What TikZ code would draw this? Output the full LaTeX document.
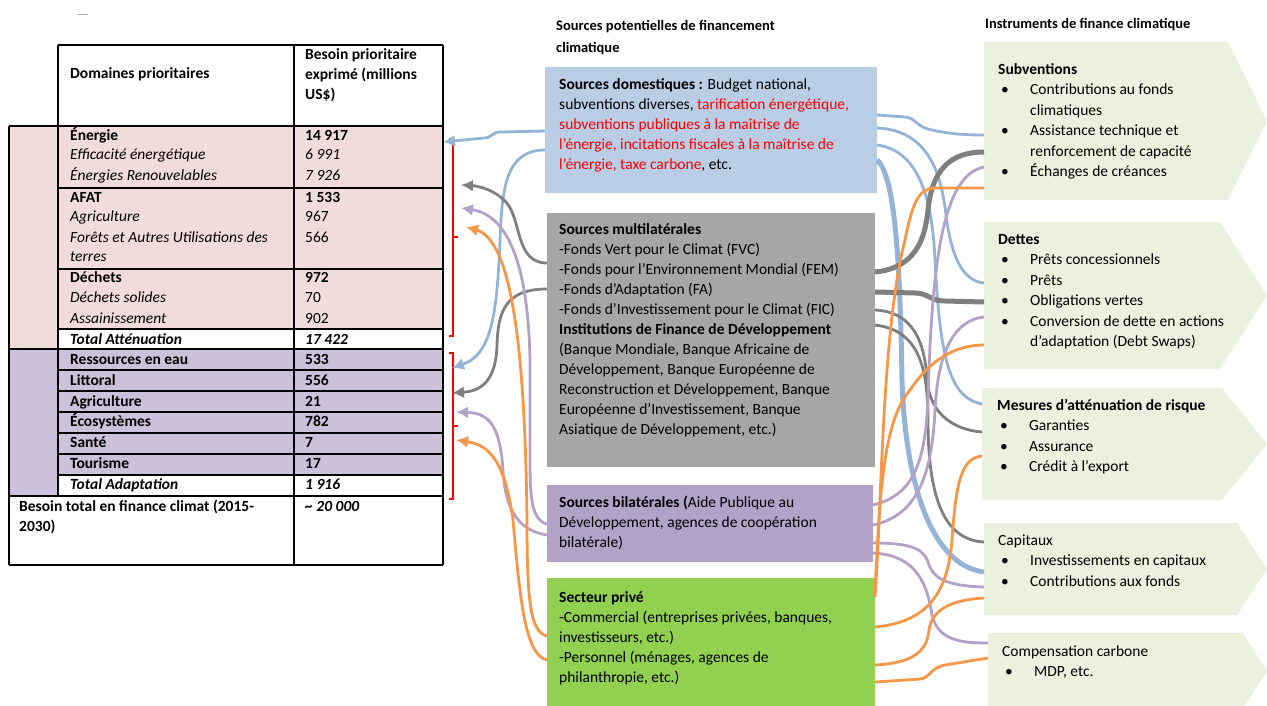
\documentclass[tikz,border=0pt]{standalone}
\usepackage{fontspec}
\setmainfont{Carlito}
\usetikzlibrary{arrows.meta,calc}
\definecolor{PinkClr}{HTML}{F2DCDB}
\definecolor{LilacClr}{HTML}{CCC0DA}
\definecolor{DomClr}{HTML}{B9CDE5}
\definecolor{MultiClr}{HTML}{A6A6A6}
\definecolor{BilatClr}{HTML}{B3A2C7}
\definecolor{PrivClr}{HTML}{92D050}
\definecolor{ChevClr}{HTML}{EBF1DE}
\definecolor{BlueLn}{HTML}{95B3D7}
\definecolor{GrayLn}{HTML}{7F7F7F}
\definecolor{LilacLn}{HTML}{B3A2C7}
\definecolor{OrangeLn}{HTML}{F79646}
\definecolor{BrackClr}{HTML}{FF0000}
\newcommand{\srcfont}{\fontsize{15.5}{20}\selectfont}
\newcommand{\insfont}{\fontsize{15.5}{20.5}\selectfont}
\newcommand{\boxlines}[1]{\parbox[t]{330pt}{\raggedright #1}}
\newcommand{\bitem}[1]{\hspace*{3pt}\makebox[29pt][l]{\textbullet}#1}
\newcommand{\bcont}[1]{\hspace*{32pt}#1}

\begin{document}
\begin{tikzpicture}[x=1pt,y=-1pt,
  txt/.style={anchor=base west,inner sep=0pt,font=\srcfont},
  instxt/.style={anchor=base west,inner sep=0pt,font=\insfont},
  boxnode/.style={anchor=north west,inner sep=0pt,outer sep=0pt},
  tline/.style={line width=1.2pt},
  bracket/.style={draw=BrackClr,line width=1.3pt},
  link/.style={line width=2.8pt},
  biglink/.style={line width=5pt},
  toleft/.style={-{Latex[length=12pt,width=12pt]}}]
\useasboundingbox (0,0) rectangle (1267,705);

\fill[PinkClr] (9,126) rectangle (443,329);
\fill[PinkClr] (9,329) rectangle (58,349);
\fill[LilacClr] (9,349) rectangle (443,475);
\fill[LilacClr] (9,475) rectangle (58,496);

\draw[tline] (58,45) -- (443,45);
\draw[tline] (9,126) -- (443,126);
\draw[tline] (58,188) -- (443,188);
\draw[tline] (58,269) -- (443,269);
\draw[tline] (58,329) -- (443,329);
\draw[tline] (9,349) -- (443,349);
\foreach \yy in {370,391,412,433,454,475}
  \draw[tline] (58,\yy) -- (443,\yy);
\draw[tline] (9,496) -- (443,496);
\draw[tline] (9,565) -- (443,565);
\draw[tline] (9,126) -- (9,565);
\draw[tline] (58,45) -- (58,496);
\draw[tline] (294,45) -- (294,565);
\draw[tline] (443,45) -- (443,565);
\draw[GrayLn!60,line width=1pt] (77,14) -- (88,14);

\node[txt] (hd1) at (70,78) {\textbf{Domaines prioritaires}};
\node[txt] (hd2) at (305,59) {\parbox[t]{140pt}{\bfseries Besoin prioritaire\\ exprimé (millions\\ US\$)}};

\node[txt] (n1) at (70,140) {\textbf{Énergie}};
\node[txt] (v1) at (305,140) {\textbf{14 917}};
\node[txt] (n2) at (70,159) {\textit{Efficacité énergétique}};
\node[txt] (v2) at (305,159) {\textit{6 991}};
\node[txt] (n3) at (70,180) {\textit{Énergies Renouvelables}};
\node[txt] (v3) at (305,180) {\textit{7 926}};
\node[txt] (n4) at (70,202) {\textbf{AFAT}};
\node[txt] (v4) at (305,202) {\textbf{1 533}};
\node[txt] (n5) at (70,221) {\textit{Agriculture}};
\node[txt] (v5) at (305,221) {967};
\node[txt] (n6) at (70,242) {\textit{Forêts et Autres Utilisations des}};
\node[txt] (v6) at (305,242) {566};
\node[txt] (n6b) at (70,261) {\textit{terres}};
\node[txt] (n7) at (70,282) {\textbf{Déchets}};
\node[txt] (v7) at (305,282) {\textbf{972}};
\node[txt] (n8) at (70,302) {\textit{Déchets solides}};
\node[txt] (v8) at (305,302) {70};
\node[txt] (n9) at (70,323) {\textit{Assainissement}};
\node[txt] (v9) at (305,323) {902};
\node[txt] (n10) at (70,344) {\textbf{\textit{Total Atténuation}}};
\node[txt] (v10) at (305,344) {\textbf{\textit{17 422}}};
\node[txt] (n11) at (70,364) {\textbf{Ressources en eau}};
\node[txt] (v11) at (305,364) {\textbf{533}};
\node[txt] (n12) at (70,385) {\textbf{Littoral}};
\node[txt] (v12) at (305,385) {\textbf{556}};
\node[txt] (n13) at (70,406) {\textbf{Agriculture}};
\node[txt] (v13) at (305,406) {\textbf{21}};
\node[txt] (n14) at (70,426) {\textbf{Écosystèmes}};
\node[txt] (v14) at (305,426) {\textbf{782}};
\node[txt] (n15) at (70,447) {\textbf{Santé}};
\node[txt] (v15) at (305,447) {\textbf{7}};
\node[txt] (n16) at (70,468) {\textbf{Tourisme}};
\node[txt] (v16) at (305,468) {\textbf{17}};
\node[txt] (n17) at (70,489) {\textbf{\textit{Total Adaptation}}};
\node[txt] (v17) at (305,489) {\textbf{\textit{1 916}}};
\node[txt] (n18) at (19,511) {\parbox[t]{270pt}{\bfseries Besoin total en finance climat (2015-\\ 2030)}};
\node[txt] (v18) at (305,511) {\textbf{\textit{\textasciitilde\ 20 000}}};

\draw[bracket] (449,139) -- (453,139) -- (453,336) -- (449,336);
\draw[bracket] (453,237) -- (458,237);
\draw[bracket] (449,353) -- (453,353) -- (453,499) -- (449,499);
\draw[bracket] (453,426) -- (458,426);

\coordinate (tgtEn) at (443,142);
\coordinate (tgtEau) at (452,368);
\coordinate (tgtAfat) at (461,185);
\coordinate (tgtLit) at (452,393);
\coordinate (tgtAfatb) at (461,208);
\coordinate (tgtAgr) at (456,412);
\coordinate (tgtDech) at (466,227);
\coordinate (tgtEco) at (456,440);

\node[boxnode,fill=DomClr,minimum width=332pt,minimum height=126pt] (dom) at (545,67) {};
\node[boxnode,fill=MultiClr,minimum width=328pt,minimum height=254pt] (multi) at (547,213) {};
\node[boxnode,fill=BilatClr,minimum width=326pt,minimum height=77pt] (bilat) at (547,485) {};
\node[boxnode,fill=PrivClr,minimum width=328pt,minimum height=130pt] (priv) at (547,578) {};

\node[boxnode,minimum width=244pt,minimum height=158pt] (subv) at (984,42) {};
\node[boxnode,minimum width=236pt,minimum height=147pt] (dettes) at (984,222) {};
\node[boxnode,minimum width=240pt,minimum height=112pt] (risque) at (982,388) {};
\node[boxnode,minimum width=253pt,minimum height=92pt] (capit) at (984,523) {};
\node[boxnode,minimum width=255pt,minimum height=76pt] (compens) at (988,633) {};
\fill[ChevClr] (subv.north west) -- (subv.north east) -- ($(subv.east)+(39,0)$) -- (subv.south east) -- (subv.south west) -- cycle;
\fill[ChevClr] (dettes.north west) -- (dettes.north east) -- ($(dettes.east)+(47,0)$) -- (dettes.south east) -- (dettes.south west) -- cycle;
\fill[ChevClr] (risque.north west) -- (risque.north east) -- ($(risque.east)+(45,0)$) -- (risque.south east) -- (risque.south west) -- cycle;
\fill[ChevClr] (capit.north west) -- (capit.north east) -- ($(capit.east)+(30,0)$) -- (capit.south east) -- (capit.south west) -- cycle;
\fill[ChevClr] (compens.north west) -- (compens.north east) -- ($(compens.east)+(24,0)$) -- (compens.south east) -- (compens.south west) -- cycle;

\draw[link,BlueLn,toleft] (dom.west |- 0,131) -- (500,132) .. controls (492,132) and (492,138) .. (484,138) -- (tgtEn);
\draw[link,BlueLn,toleft] (dom.west |- 0,150) .. controls (505,150) and (502,190) .. (500,240) .. controls (497,320) and (490,355) .. (tgtEau);
\draw[link,GrayLn,toleft] (multi.west |- 0,263) .. controls (515,263) and (522,220) .. (506,202) .. controls (496,191) and (480,186) .. (tgtAfat);
\draw[link,GrayLn,toleft] (multi.west |- 0,289) .. controls (505,289) and (498,312) .. (497,345) .. controls (496,380) and (482,391) .. (tgtLit);
\draw[link,LilacLn,toleft] (bilat.west |- 0,524) .. controls (532,520) and (530,500) .. (530,460) -- (530,360) .. controls (528,262) and (507,215) .. (tgtAfatb);
\draw[link,LilacLn,toleft] (bilat.west |- 0,535) .. controls (515,530) and (505,505) .. (503,470) .. controls (500,427) and (490,413) .. (tgtAgr);
\draw[link,OrangeLn,toleft] (priv.west |- 0,636) .. controls (530,632) and (527,600) .. (527,520) .. controls (525,350) and (512,240) .. (tgtDech);
\draw[link,OrangeLn,toleft] (priv.west |- 0,660) .. controls (525,655) and (520,600) .. (513,520) .. controls (505,462) and (490,445) .. (tgtEco);

\draw[link,BlueLn] (dom.east |- 0,115) -- (905,117) .. controls (916,118) and (916,127) .. (932,130) .. controls (950,134) and (965,135) .. (subv.west |- 0,135);
\draw[link,BlueLn] (dom.east |- 0,128) .. controls (920,130) and (940,160) .. (946,215) .. controls (951,255) and (962,281) .. (dettes.west |- 0,283);
\draw[link,BlueLn] (dom.east |- 0,145) .. controls (915,150) and (932,190) .. (935,260) .. controls (940,360) and (950,398) .. (risque.west |- 0,404);
\draw[biglink,BlueLn] (dom.east |- 0,160) .. controls (895,175) and (900,260) .. (902,380) .. controls (905,480) and (930,565) .. (capit.west |- 0,572);
\draw[biglink,GrayLn] (multi.east |- 0,272) .. controls (915,268) and (925,240) .. (928,210) .. controls (932,170) and (950,152) .. (subv.west |- 0,152);
\draw[biglink,GrayLn] (multi.east |- 0,292) -- (915,293) .. controls (928,293) and (930,301) .. (945,301) -- (dettes.west |- 0,302);
\draw[link,GrayLn] (multi.east |- 0,310) .. controls (915,312) and (925,345) .. (927,380) .. controls (930,415) and (955,430) .. (risque.west |- 0,432);
\draw[link,GrayLn] (multi.east |- 0,325) .. controls (915,330) and (928,360) .. (928,420) .. controls (928,500) and (945,540) .. (capit.west |- 0,542);
\draw[link,LilacLn] (bilat.east |- 0,505) .. controls (915,495) and (925,460) .. (928,400) .. controls (932,250) and (945,175) .. (subv.west |- 0,167);
\draw[link,LilacLn] (bilat.east |- 0,525) .. controls (920,515) and (932,470) .. (935,410) .. controls (938,350) and (955,320) .. (dettes.west |- 0,317);
\draw[link,LilacLn] (bilat.east |- 0,543) .. controls (915,543) and (925,550) .. (929,565) .. controls (935,582) and (955,586) .. (capit.west |- 0,587);
\draw[link,LilacLn] (bilat.east |- 0,553) .. controls (920,555) and (928,590) .. (932,615) .. controls (938,640) and (960,643) .. (compens.west |- 0,643);
\draw[link,OrangeLn] (priv.east |- 0,597) .. controls (882,500) and (882,330) .. (905,240) .. controls (912,205) and (918,188) .. (935,188) -- (subv.west |- 0,188);
\draw[link,OrangeLn] (priv.east |- 0,593) .. controls (880,480) and (885,420) .. (910,390) .. controls (930,360) and (955,345) .. (dettes.west |- 0,345);
\draw[link,OrangeLn] (priv.east |- 0,627) .. controls (930,622) and (948,590) .. (952,540) .. controls (956,480) and (962,458) .. (risque.west |- 0,456);
\draw[link,OrangeLn] (priv.east |- 0,665) .. controls (915,663) and (927,650) .. (929,630) .. controls (932,610) and (950,600) .. (capit.west |- 0,598);
\draw[link,OrangeLn] (priv.east |- 0,682) -- (920,679) .. controls (930,678) and (930,668) .. (945,665) -- (compens.west |- 0,658);

\node[txt,font=\fontsize{14.5}{22}\selectfont] (hdsrc) at (556,30) {\parbox[t]{300pt}{\bfseries Sources potentielles de financement\\ climatique}};
\node[txt,font=\fontsize{14.5}{22}\selectfont] (hdins) at (985,28) {\textbf{Instruments de finance climatique}};

\node[txt] (domtxt) at (559,89) {\boxlines{\textbf{Sources domestiques :} Budget national,\\ subventions diverses, \textcolor{red}{tarification énergétique,}\\ \textcolor{red}{subventions publiques à la maîtrise de}\\ \textcolor{red}{l’énergie, incitations fiscales à la maîtrise de}\\ \textcolor{red}{l’énergie, taxe carbone}, etc.}};
\node[txt] (multitxt) at (559,234) {\boxlines{\textbf{Sources multilatérales}\\ -Fonds Vert pour le Climat (FVC)\\ -Fonds pour l’Environnement Mondial (FEM)\\ -Fonds d’Adaptation (FA)\\ -Fonds d’Investissement pour le Climat (FIC)\\ \textbf{Institutions de Finance de Développement}\\ (Banque Mondiale, Banque Africaine de\\ Développement, Banque Européenne de\\ Reconstruction et Développement, Banque\\ Européenne d’Investissement, Banque\\ Asiatique de Développement, etc.)}};
\node[txt] (bilattxt) at (559,507) {\boxlines{\textbf{Sources bilatérales (}Aide Publique au\\ Développement, agences de coopération\\ bilatérale)}};
\node[txt] (privtxt) at (559,602) {\boxlines{\textbf{Secteur privé}\\ -Commercial (entreprises privées, banques,\\ investisseurs, etc.)\\ -Personnel (ménages, agences de\\ philanthropie, etc.)}};

\node[instxt] (subvtxt) at (998,74) {\boxlines{\textbf{Subventions}\\ \bitem{Contributions au fonds}\\ \bcont{climatiques}\\ \bitem{Assistance technique et}\\ \bcont{renforcement de capacité}\\ \bitem{Échanges de créances}}};
\node[instxt] (dettxt) at (998,244) {\boxlines{\textbf{Dettes}\\ \bitem{Prêts concessionnels}\\ \bitem{Prêts}\\ \bitem{Obligations vertes}\\ \bitem{Conversion de dette en actions}\\ \bcont{d’adaptation (Debt Swaps)}}};
\node[instxt] (risqtxt) at (997,410) {\boxlines{\textbf{Mesures d’atténuation de risque}\\ \bitem{Garanties}\\ \bitem{Assurance}\\ \bitem{Crédit à l’export}}};
\node[instxt] (capittxt) at (998,545) {\boxlines{Capitaux\\ \bitem{Investissements en capitaux}\\ \bitem{Contributions aux fonds}}};
\node[instxt] (comptxt) at (1002,656) {\boxlines{Compensation carbone\\ \bitem{MDP, etc.}}};

\end{tikzpicture}
\end{document}
